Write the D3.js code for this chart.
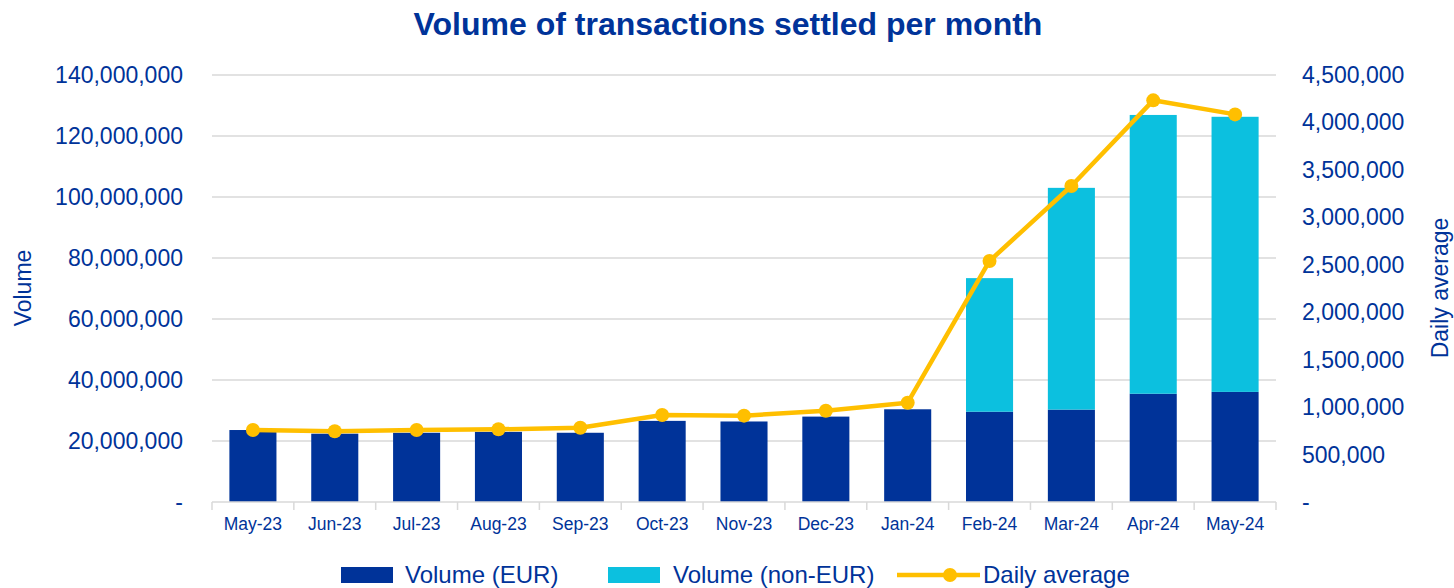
<!DOCTYPE html>
<html>
<head>
<meta charset="utf-8">
<script src="https://cdn.jsdelivr.net/npm/d3@7"></script>
<style>
  body { margin: 0; background: #fff; }
  svg { font-family: "Liberation Sans", Arial, sans-serif; }
</style>
</head>
<body>
<svg id="chart" width="1454" height="588"></svg>
<script>
var months = ["May-23","Jun-23","Jul-23","Aug-23","Sep-23","Oct-23","Nov-23","Dec-23","Jan-24","Feb-24","Mar-24","Apr-24","May-24"]
var volEur = [23.6e6, 22.4e6, 22.7e6, 23.0e6, 22.7e6, 26.6e6, 26.4e6, 28.0e6, 30.4e6, 29.6e6, 30.3e6, 35.5e6, 36.1e6]
var volNonEur = [0, 0, 0, 0, 0, 0, 0, 0, 0, 43.8e6, 72.7e6, 91.4e6, 90.2e6]
var dailyAvg = [759000, 745000, 759000, 766000, 783000, 917000, 910000, 962000, 1046000, 2540000, 3330000, 4233000, 4085000]
var leftTicks = [0, 20e6, 40e6, 60e6, 80e6, 100e6, 120e6, 140e6]
var rightTicks = [0, 500000, 1000000, 1500000, 2000000, 2500000, 3000000, 3500000, 4000000, 4500000]

var navy = "#003399", cyan = "#0cc0df", gold = "#ffbf00", txt = "#003399"

var svg = d3.select("#chart")
var pLeft = 212, pRight = 1276, pTop = 75, pBottom = 502

var x = d3.scaleBand().domain(months).range([pLeft, pRight]).paddingInner(0.425).paddingOuter(0.2125)
var band = d3.scaleBand().domain(months).range([pLeft, pRight])
var yL = d3.scaleLinear().domain([0, 140e6]).range([pBottom, pTop])
var yR = d3.scaleLinear().domain([0, 4.5e6]).range([pBottom, pTop])
var fmt = d3.format(",")

// title
svg.append("text")
    .attr("x", 728).attr("y", 35)
    .attr("text-anchor", "middle")
    .style("font-size", "32px").style("font-weight", "bold")
    .attr("fill", txt)
    .text("Volume of transactions settled per month")

// grid
svg.append("g").selectAll("line")
    .data(leftTicks.slice(1))
    .enter().append("line")
    .attr("x1", pLeft).attr("x2", pRight)
    .attr("y1", d => yL(d)).attr("y2", d => yL(d))
    .attr("stroke", "#d9d9d9").attr("stroke-width", 1.5)

// left labels
svg.append("g").selectAll("text")
    .data(leftTicks)
    .enter().append("text")
    .attr("x", 183).attr("y", d => yL(d) + 8)
    .attr("text-anchor", "end")
    .style("font-size", "23px").attr("fill", txt)
    .text(d => d === 0 ? "-" : fmt(d))

// right labels
svg.append("g").selectAll("text")
    .data(rightTicks)
    .enter().append("text")
    .attr("x", 1302).attr("y", d => yR(d) + 8)
    .attr("text-anchor", "start")
    .style("font-size", "23px").attr("fill", txt)
    .text(d => d === 0 ? "-" : fmt(d))

// axis titles
svg.append("text")
    .attr("transform", "translate(31,288) rotate(-90)")
    .attr("text-anchor", "middle")
    .style("font-size", "23px").attr("fill", txt)
    .text("Volume")
svg.append("text")
    .attr("transform", "translate(1448,288) rotate(-90)")
    .attr("text-anchor", "middle")
    .style("font-size", "23px").attr("fill", txt)
    .text("Daily average")

// bars
var bars = svg.append("g")
bars.selectAll("rect.eur")
    .data(months)
    .enter().append("rect")
    .attr("class", "eur")
    .attr("x", d => x(d)).attr("width", x.bandwidth())
    .attr("y", (d, i) => yL(volEur[i]))
    .attr("height", (d, i) => pBottom - yL(volEur[i]))
    .attr("fill", navy)
bars.selectAll("rect.neur")
    .data(months)
    .enter().append("rect")
    .attr("class", "neur")
    .attr("x", d => x(d)).attr("width", x.bandwidth())
    .attr("y", (d, i) => yL(volEur[i] + volNonEur[i]))
    .attr("height", (d, i) => yL(volEur[i]) - yL(volEur[i] + volNonEur[i]))
    .attr("fill", cyan)

// x axis
var xa = svg.append("g")
xa.append("line")
    .attr("x1", pLeft).attr("x2", pRight)
    .attr("y1", pBottom).attr("y2", pBottom)
    .attr("stroke", "#d9d9d9").attr("stroke-width", 1.5)
xa.selectAll("line.tk")
    .data(months.concat(["end"]))
    .enter().append("line")
    .attr("class", "tk")
    .attr("x1", (d, i) => pLeft + i * band.step()).attr("x2", (d, i) => pLeft + i * band.step())
    .attr("y1", pBottom).attr("y2", pBottom + 8)
    .attr("stroke", "#d9d9d9").attr("stroke-width", 1.5)
xa.selectAll("text")
    .data(months)
    .enter().append("text")
    .attr("x", d => band(d) + band.bandwidth() / 2)
    .attr("y", 530)
    .attr("text-anchor", "middle")
    .style("font-size", "17.5px").attr("fill", txt)
    .text(d => d)

// line
var line = d3.line()
    .x((d, i) => band(months[i]) + band.bandwidth() / 2)
    .y(d => yR(d))
svg.append("path")
    .datum(dailyAvg)
    .attr("d", line)
    .attr("fill", "none")
    .attr("stroke", gold).attr("stroke-width", 4.5)
    .attr("stroke-linejoin", "round")
svg.append("g").selectAll("circle")
    .data(dailyAvg)
    .enter().append("circle")
    .attr("cx", (d, i) => band(months[i]) + band.bandwidth() / 2)
    .attr("cy", d => yR(d))
    .attr("r", 7)
    .attr("fill", gold)

// legend
var lg = svg.append("g")
lg.append("rect").attr("x", 341).attr("y", 567).attr("width", 52).attr("height", 16).attr("fill", navy)
lg.append("text").attr("x", 405).attr("y", 583).style("font-size", "24px").attr("fill", txt).text("Volume (EUR)")
lg.append("rect").attr("x", 608).attr("y", 567).attr("width", 52).attr("height", 16).attr("fill", cyan)
lg.append("text").attr("x", 673).attr("y", 583).style("font-size", "24px").attr("fill", txt).text("Volume (non-EUR)")
lg.append("line").attr("x1", 897).attr("x2", 980).attr("y1", 575).attr("y2", 575)
    .attr("stroke", gold).attr("stroke-width", 4.5)
lg.append("circle").attr("cx", 950).attr("cy", 575).attr("r", 7).attr("fill", gold)
lg.append("text").attr("x", 983).attr("y", 583).style("font-size", "24px").attr("fill", txt).text("Daily average")
</script>
</body>
</html>
